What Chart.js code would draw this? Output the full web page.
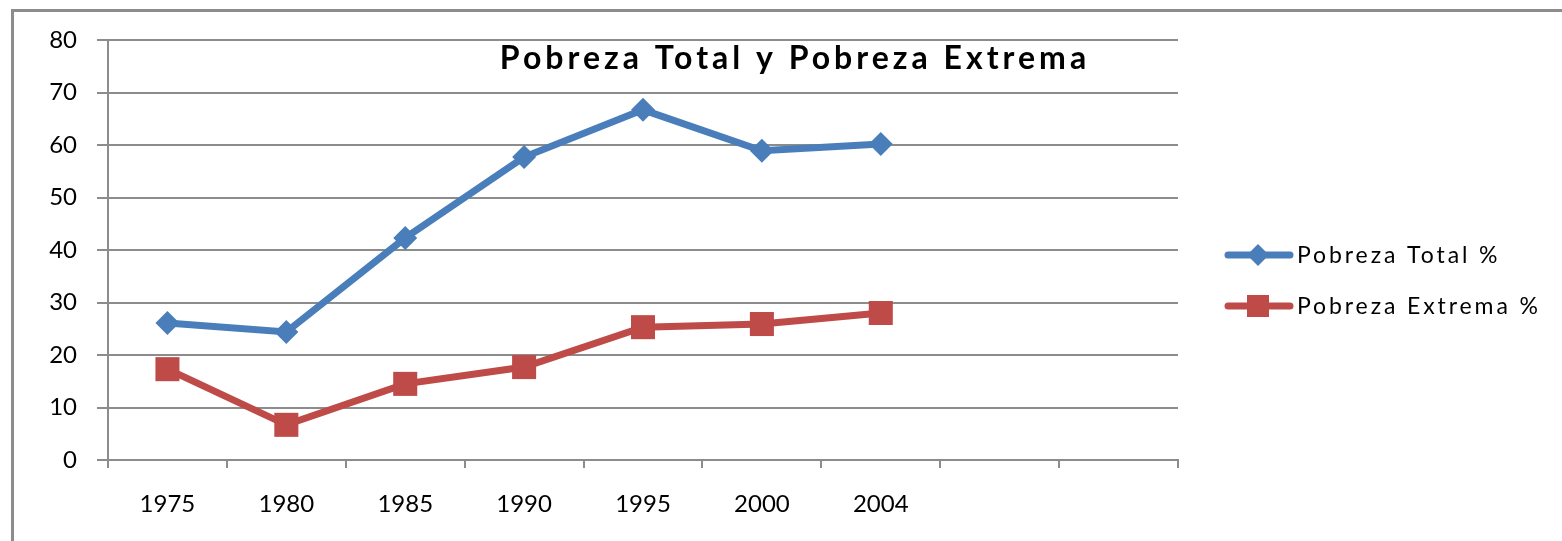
<!DOCTYPE html>
<html lang="es">
<head>
<meta charset="UTF-8">
<title>Pobreza Total y Pobreza Extrema</title>
<script src="https://cdn.jsdelivr.net/npm/chart.js"></script>
<style>
    body {
        margin: 0;
        background: #ffffff;
    }
    #chart {
        display: block;
    }
</style>
</head>
<body>
<canvas id="chart" width="1562" height="541"></canvas>
<script>
// data
const years = ['1975', '1980', '1985', '1990', '1995', '2000', '2004', '', ''];
const pobrezaTotal = [26.1, 24.4, 42.3, 57.7, 66.7, 58.9, 60.2];
const pobrezaExtrema = [17.3, 6.7, 14.5, 17.7, 25.3, 25.9, 28.0];
const seriesNames = ['Pobreza Total %', 'Pobreza Extrema %'];
const chartTitle = 'Pobreza Total y Pobreza Extrema';

const blue = '#4a7ebb';
const red = '#be4b48';
const grey = '#8c8c8c';
const fontFamily = 'Lato, "Liberation Sans", sans-serif';

// frame, title and legend drawn by hand (letter spaced like the original)
const decorations = {
    id: 'decorations',
    beforeDraw(chart) {
        const ctx = chart.ctx;
        ctx.save();
        ctx.fillStyle = grey;
        ctx.fillRect(11, 9, 1562, 3);
        ctx.fillRect(11, 9, 3, 541);
        ctx.restore();
    },
    afterDraw(chart) {
        const ctx = chart.ctx;
        ctx.save();
        ctx.fillStyle = '#000';
        ctx.textBaseline = 'alphabetic';
        ctx.font = 'bold 32px ' + fontFamily;
        ctx.letterSpacing = '4px';
        ctx.textAlign = 'center';
        ctx.fillText(chartTitle, 795, 69);

        const items = [
            { name: seriesNames[0], color: blue, style: 'diamond', y: 255 },
            { name: seriesNames[1], color: red, style: 'square', y: 306 }
        ];
        items.forEach(it => {
            ctx.strokeStyle = it.color;
            ctx.lineWidth = 7;
            ctx.lineCap = 'round';
            ctx.beginPath();
            ctx.moveTo(1228, it.y);
            ctx.lineTo(1290, it.y);
            ctx.stroke();
            ctx.fillStyle = it.color;
            ctx.beginPath();
            if (it.style === 'diamond') {
                ctx.moveTo(1258, it.y - 11);
                ctx.lineTo(1269, it.y);
                ctx.lineTo(1258, it.y + 11);
                ctx.lineTo(1247, it.y);
                ctx.closePath();
            } else {
                ctx.rect(1247, it.y - 11, 22, 22);
            }
            ctx.fill();
            ctx.fillStyle = '#000';
            ctx.font = '23px ' + fontFamily;
            ctx.letterSpacing = '2.9px';
            ctx.textAlign = 'left';
            ctx.textBaseline = 'middle';
            ctx.fillText(it.name, 1297, it.y + 1);
        });
        ctx.restore();
    }
};

const ctx = document.getElementById('chart').getContext('2d');
const chart = new Chart(ctx, {
    type: 'line',
    data: {
        labels: years,
        datasets: [
            {
                label: seriesNames[0],
                data: pobrezaTotal,
                borderColor: blue,
                backgroundColor: blue,
                borderWidth: 7,
                pointStyle: 'rectRot',
                pointRadius: 12,
                pointBorderWidth: 0,
                tension: 0
            },
            {
                label: seriesNames[1],
                data: pobrezaExtrema,
                borderColor: red,
                backgroundColor: red,
                borderWidth: 7,
                pointStyle: 'rect',
                pointRadius: 17,
                pointBorderWidth: 0,
                tension: 0
            }
        ]
    },
    options: {
        responsive: false,
        animation: false,
        layout: {
            padding: { left: 0, top: 40, right: 384, bottom: 0 }
        },
        plugins: {
            legend: { display: false },
            title: { display: false },
            tooltip: { enabled: false }
        },
        scales: {
            x: {
                offset: true,
                grid: {
                    offset: true,
                    drawOnChartArea: false,
                    drawTicks: true,
                    tickLength: 8,
                    color: grey,
                    lineWidth: 2
                },
                border: { color: grey, width: 2 },
                ticks: {
                    color: '#000',
                    padding: 22,
                    maxRotation: 0,
                    autoSkip: false,
                    font: { family: fontFamily, size: 24 }
                },
                afterFit(scale) { scale.height = 81; }
            },
            y: {
                min: 0,
                max: 80,
                ticks: {
                    stepSize: 10,
                    color: '#000',
                    padding: 20,
                    font: { family: fontFamily, size: 24 }
                },
                grid: {
                    color: grey,
                    lineWidth: 2,
                    tickLength: 11
                },
                border: { color: grey, width: 2 },
                afterFit(scale) { scale.width = 108; }
            }
        }
    },
    plugins: [decorations]
});
</script>
</body>
</html>
